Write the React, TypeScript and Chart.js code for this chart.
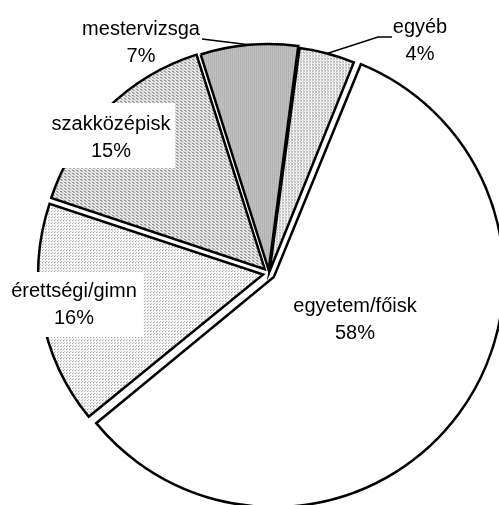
import React, { useEffect, useRef } from 'react';
import { Chart, registerables } from 'chart.js';

Chart.register(...registerables);

// ---- data ----
const categories = ['egyetem/főisk', 'érettségi/gimn', 'szakközépisk', 'mestervizsga', 'egyéb'];
const shares = [58, 16, 15, 7, 4];

// ---- styling / layout ----
type Px = [number, number, string];
const PATTERNS: { w: number; h: number; px: Px[] }[] = [
  { w: 1, h: 1, px: [] }, // white
  { w: 3, h: 3, px: [[0, 0, '#8a8a8a'], [1, 2, '#b0b0b0']] },
  { w: 4, h: 3, px: [[0, 0, '#6a6a6a'], [1, 0, '#8a8a8a'], [1, 1, '#9a9a9a'], [2, 1, '#7a7a7a'], [3, 2, '#b0b0b0']] },
  { w: 2, h: 2, px: [[0, 0, '#555555'], [1, 1, '#959595']] },
  { w: 3, h: 3, px: [[0, 0, '#707070'], [0, 1, '#a0a0a0'], [2, 2, '#b8b8b8']] },
];
const OFFSETS = [24, 24, 24, 14, 8];
const RADIUS = 224;
const ROTATION = 22;
const FONT = '20px "Liberation Sans", Arial, sans-serif';
const LINE_GAP = 27;
type LabelCfg = { x: number; y: number; box?: [number, number, number, number]; leader?: [number, number][] };
const LABELS: LabelCfg[] = [
  { x: 355, y: 312 },
  { x: 74, y: 297, box: [8, 272, 135, 65] },
  { x: 111, y: 130, box: [47, 103, 128, 65] },
  { x: 141, y: 35, leader: [[202, 39]] },
  { x: 420, y: 33, leader: [[378, 37], [392, 37]] },
];

function makePattern(ctx: CanvasRenderingContext2D, def: { w: number; h: number; px: Px[] }) {
  const c = document.createElement('canvas');
  c.width = def.w;
  c.height = def.h;
  const t = c.getContext('2d')!;
  t.fillStyle = '#ffffff';
  t.fillRect(0, 0, def.w, def.h);
  def.px.forEach(([x, y, col]) => {
    t.fillStyle = col;
    t.fillRect(x, y, 1, 1);
  });
  return ctx.createPattern(c, 'repeat')!;
}

const labelPlugin = {
  id: 'sliceLabels',
  afterDatasetsDraw(chart: any) {
    const ctx: CanvasRenderingContext2D = chart.ctx;
    const meta = chart.getDatasetMeta(0);
    const total = shares.reduce((a, b) => a + b, 0);
    ctx.save();
    ctx.font = FONT;
    ctx.textAlign = 'center';
    ctx.textBaseline = 'alphabetic';
    shares.forEach((v, i) => {
      const L = LABELS[i];
      if (L.box) {
        ctx.fillStyle = '#ffffff';
        ctx.fillRect(L.box[0], L.box[1], L.box[2], L.box[3]);
      }
      if (L.leader) {
        const arc = meta.data[i];
        const mid = (arc.startAngle + arc.endAngle) / 2;
        const t = (arc.options.offset || 0) / 4;
        const fix = 1 - Math.sin(Math.min(Math.PI, arc.circumference || 0));
        const r = arc.outerRadius + t * fix;
        const sx = arc.x + Math.cos(mid) * (t + r);
        const sy = arc.y + Math.sin(mid) * (t + r);
        ctx.strokeStyle = '#000';
        ctx.lineWidth = 1.5;
        ctx.beginPath();
        ctx.moveTo(sx, sy);
        L.leader.forEach(([x, y]) => ctx.lineTo(x, y));
        ctx.stroke();
      }
      ctx.fillStyle = '#000';
      ctx.fillText(categories[i], L.x, L.y);
      ctx.fillText(Math.round((v / total) * 100) + '%', L.x, L.y + LINE_GAP);
    });
    ctx.restore();
  },
};

export default function App() {
  const ref = useRef<HTMLCanvasElement>(null);
  useEffect(() => {
    const canvas = ref.current!;
    const ctx = canvas.getContext('2d')!;
    const bg = PATTERNS.map((p) => makePattern(ctx, p));
    const chart = new Chart(canvas, {
      type: 'pie',
      data: {
        labels: categories,
        datasets: [
          {
            data: shares,
            backgroundColor: bg as any,
            borderColor: '#000000',
            borderWidth: 2.5,
            borderJoinStyle: 'miter',
            offset: OFFSETS,
            hoverOffset: 0,
            clip: false,
          } as any,
        ],
      },
      options: {
        responsive: false,
        animation: false,
        rotation: ROTATION,
        radius: RADIUS,
        events: [],
        layout: { padding: { left: 39, top: 42, right: 0, bottom: 0 } },
        plugins: { legend: { display: false }, tooltip: { enabled: false } },
      } as any,
      plugins: [labelPlugin],
    });
    return () => chart.destroy();
  }, []);
  return (
    <canvas
      ref={ref}
      width={499}
      height={505}
      style={{ position: 'absolute', left: 0, top: 0, display: 'block', background: '#fff' }}
    />
  );
}
